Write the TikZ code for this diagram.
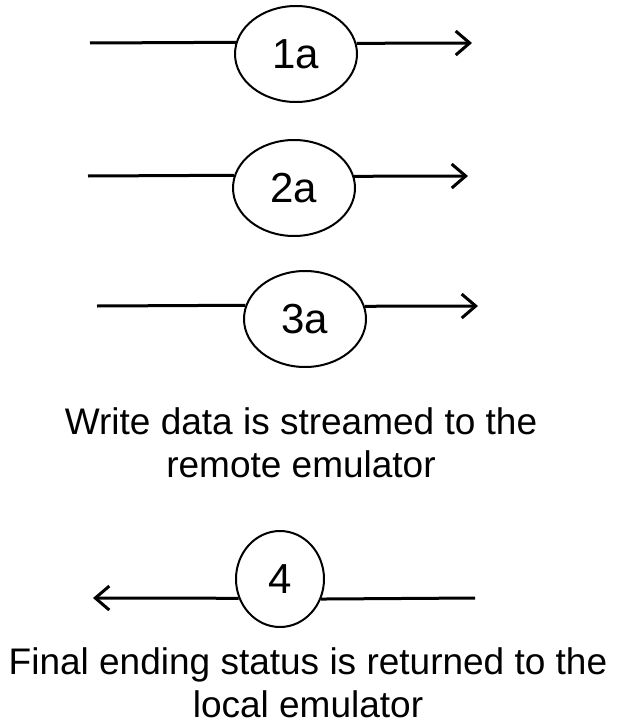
\documentclass[tikz,border=0pt]{standalone}
\usepackage{fontspec}
\setmainfont{Liberation Sans}
\usetikzlibrary{shapes.geometric,arrows.meta,positioning}

\begin{document}
\begin{tikzpicture}[>={Straight Barb[length=14pt,width=24pt]},x=1pt,y=-1pt,line width=3pt]
\tikzstyle{msg}=[ellipse,draw=black,fill=white,line width=2pt,inner sep=0pt,minimum width=122pt,minimum height=96pt,font=\fontsize{42}{42}\selectfont]
\tikzstyle{status}=[msg,minimum width=88pt]
\tikzstyle{caption}=[align=center,font=\fontsize{37}{43}\selectfont]

\useasboundingbox (0,0) rectangle (617,725);

\node[msg] (M1) at (296,54) {1a};
\node[msg] (M2) at (294,188) {2a};
\node[msg] (M3) at (305,319) {3a};
\node[status] (M4) at (280,579) {4};

\coordinate (S1) at (90,43);
\coordinate (T1) at (472,43);
\coordinate (S2) at (88,176);
\coordinate (T2) at (468,176);
\coordinate (S3) at (97,306);
\coordinate (T3) at (478,306);
\coordinate (S4) at (475,598);
\coordinate (T4) at (93,598);

\path
  (S1) edge (M1.169.5)
  (M1.10.5) edge[->] (T1)
  (S2) edge (M2.168.5)
  (M2.11.5) edge[->] (T2)
  (S3) edge (M3.167.7)
  (M3.12.3) edge[->] (T3)
  (S4) edge (M4.334.8)
  (M4.205.2) edge[->] (T4);

\node[caption] (C1) at (301,443) {Write data is streamed to the\\remote emulator};
\node[caption] (C2) at (308,683) {Final ending status is returned to the\\local emulator};
\end{tikzpicture}
\end{document}
